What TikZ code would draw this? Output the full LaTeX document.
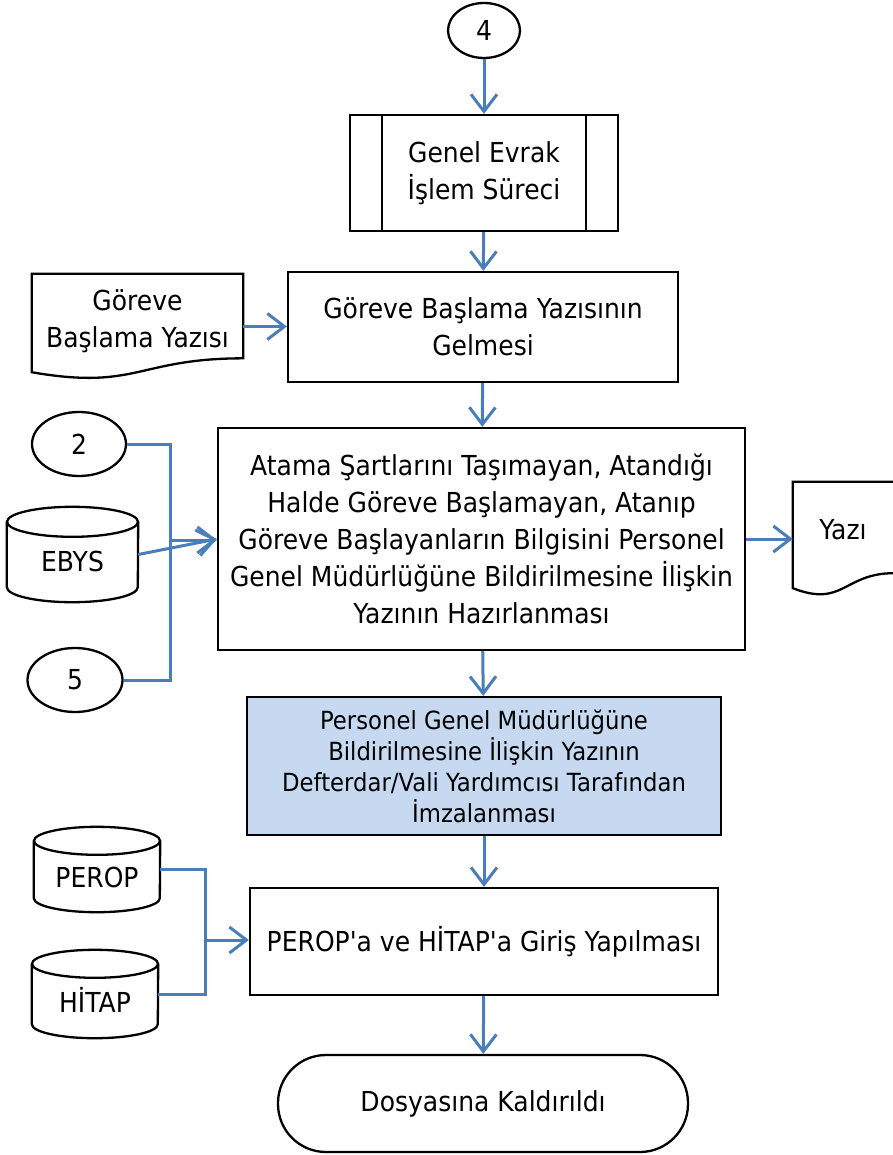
\documentclass[tikz,border=0pt]{standalone}
\usepackage{fontspec}
\setmainfont[FakeStretch=0.91,Ligatures=TeXOff]{DejaVu Sans}
\usetikzlibrary{arrows.meta,shapes.geometric,calc}
\definecolor{arrowblue}{HTML}{4A7EBB}
\definecolor{fillblue}{HTML}{C6D9F1}

\newcommand\docshape[1]{%
  \path[shapeline] (#1.north west) -- (#1.north east)
    -- ($(#1.north east)!0.802!(#1.south east)$)
    .. controls ($(#1.north)!0.802!(#1.south)$) and ($(#1.north)!1.1075!(#1.south)$)
    .. ($(#1.north west)!0.934!(#1.south west)$) -- cycle;}
\newcommand\cylshape[3]{%
  \path[shapeline] ([yshift=-#3pt]#1.north west) -- ([yshift=#3pt]#1.south west)
    arc[start angle=180,end angle=360,x radius=#2pt,y radius=#3pt]
    -- ([yshift=-#3pt]#1.north east);
  \path[shapeline] ([yshift=-#3pt]#1.north) ellipse[x radius=#2pt,y radius=#3pt];}

\begin{document}
\begin{tikzpicture}[x=1pt,y=-1pt,
  shapeline/.style={draw=black,line width=2.3pt},
  mainfont/.style={font=\fontsize{27.5}{37}\selectfont},
  boxnode/.style={shapeline,rectangle,align=center,inner sep=0pt,mainfont},
  plainnode/.style={rectangle,align=center,inner sep=0pt,mainfont},
  ovalnode/.style={shapeline,ellipse,inner sep=0pt,mainfont},
  link/.style={draw=arrowblue,line width=3pt},
  arr/.style={link,-{Straight Barb[length=17pt,width=26pt]}},
]
\useasboundingbox (0,0) rectangle (892,1155);

% nodes
\node[ovalnode,minimum width=72pt,minimum height=55pt] (c4) at (484,30.5) {4};
\node[boxnode,minimum width=268pt,minimum height=116pt] (pp) at (484,173) {Genel Evrak\\İşlem Süreci};
\draw[shapeline] ([xshift=33pt]pp.north west) -- ([xshift=33pt]pp.south west);
\draw[shapeline] ([xshift=-33pt]pp.north east) -- ([xshift=-33pt]pp.south east);

\node[plainnode,minimum width=211pt,minimum height=105pt] (d1) at (137.5,326.5) {};
\docshape{d1}
\node[plainnode] (d1t) at (137.5,321) {Göreve\\Başlama Yazısı};

\node[boxnode,minimum width=390pt,minimum height=110pt] (gb) at (483,327) {Göreve Başlama Yazısının\\Gelmesi};

\node[boxnode,minimum width=527pt,minimum height=222pt] (big) at (481.5,539)
  {Atama Şartlarını Taşımayan, Atandığı\\Halde Göreve Başlamayan, Atanıp\\Göreve Başlayanların Bilgisini Personel\\Genel Müdürlüğüne Bildirilmesine İlişkin\\Yazının Hazırlanması};

\node[ovalnode,minimum width=94pt,minimum height=64pt] (c2) at (79,444) {2};
\node[plainnode,minimum width=131pt,minimum height=95pt] (ebys) at (72.5,554.5) {};
\cylshape{ebys}{65.5}{15}
\node[plainnode] (ebyst) at (72.5,561) {EBYS};
\node[ovalnode,minimum width=95pt,minimum height=64pt] (c5) at (75,680) {5};

\node[plainnode,minimum width=101pt,minimum height=113.5pt] (yazi) at (843.5,538.75) {};
\docshape{yazi}
\node[plainnode] (yazit) at (843,530) {Yazı};

\node[boxnode,fill=fillblue,minimum width=474pt,minimum height=138pt,font=\fontsize{25}{31}\selectfont] (blue) at (484,766)
  {Personel Genel Müdürlüğüne\\Bildirilmesine İlişkin Yazının\\Defterdar/Vali Yardımcısı Tarafından\\İmzalanması};

\node[boxnode,minimum width=468pt,minimum height=107pt] (pg) at (484,941.5) {PEROP'a ve HİTAP'a Giriş Yapılması};

\node[plainnode,minimum width=126pt,minimum height=85pt] (perop) at (97,869.5) {};
\cylshape{perop}{63}{14}
\node[plainnode] (peropt) at (97,877) {PEROP};
\node[plainnode,minimum width=126pt,minimum height=88pt] (hitap) at (95,994) {};
\cylshape{hitap}{63}{14}
\node[plainnode] (hitapt) at (95,1000) {HİTAP};

\node[shapeline,rectangle,rounded corners=48pt,minimum width=410pt,minimum height=97pt,inner sep=0pt,mainfont] (end) at (483,1103.5) {Dosyasına Kaldırıldı};

% connectors
\draw[arr] (c4) -- (pp);
\draw[arr] (pp) -- (gb);
\draw[arr] (d1.east) -- (d1.east -| gb.west);
\draw[arr] (gb) -- (big);
\coordinate (jl) at (170,540);
\draw[link] (c2.east) -| (jl);
\draw[link] (c5.east) -| (jl);
\draw[arr] (jl) -- (jl -| big.west);
\draw[arr] (ebys.east) -- (big.west);
\draw[arr] (big.east) -- (big.east -| yazi.west);
\draw[arr] (big) -- (blue);
\draw[arr] (blue) -- (pg);
\coordinate (jr) at (205,940);
\draw[link] (perop.east) -| (jr);
\draw[link] (hitap.east) -| (jr);
\draw[arr] (jr) -- (jr -| pg.west);
\draw[arr] (pg) -- (end);
\end{tikzpicture}
\end{document}
